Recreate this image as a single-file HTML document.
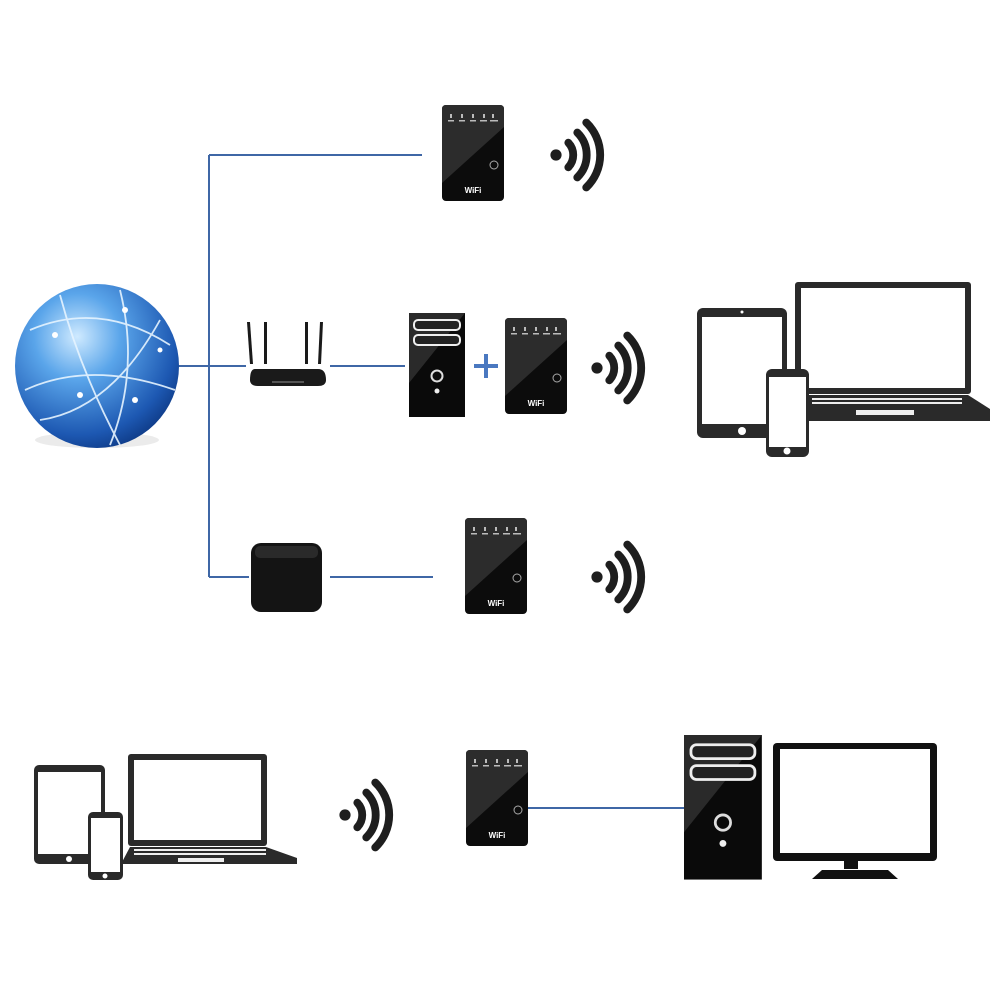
<!DOCTYPE html>
<html><head><meta charset="utf-8"><style>html,body{margin:0;padding:0;background:#fff}svg{display:block}</style></head>
<body>
<svg width="1000" height="1000" viewBox="0 0 1000 1000" xmlns="http://www.w3.org/2000/svg">
<defs>
<radialGradient id="gl" cx="0.38" cy="0.32" r="0.75">
<stop offset="0" stop-color="#cfeaff"/><stop offset="0.35" stop-color="#5aa5ea"/><stop offset="0.8" stop-color="#1d58b2"/><stop offset="1" stop-color="#0c3680"/></radialGradient>
<g id="rep">
<rect x="0" y="0" width="62" height="96" rx="4" fill="#0c0c0c"/>
<path d="M4 0 H58 Q62 0 62 4 V22 L0 78 V4 Q0 0 4 0Z" fill="#2c2c2c"/>
<g fill="#bbb"><rect x="8" y="9" width="2" height="4"/><rect x="19" y="9" width="2" height="4"/><rect x="30" y="9" width="2" height="4"/><rect x="41" y="9" width="2" height="4"/><rect x="50" y="9" width="2" height="4"/>
<rect x="6" y="15" width="6" height="1.5"/><rect x="17" y="15" width="6" height="1.5"/><rect x="28" y="15" width="6" height="1.5"/><rect x="38" y="15" width="7" height="1.5"/><rect x="48" y="15" width="8" height="1.5"/></g>
<circle cx="52" cy="60" r="4" fill="none" stroke="#aaa" stroke-width="1"/>
<text x="31" y="88" font-family="Liberation Sans, sans-serif" font-size="8" font-weight="bold" fill="#fff" text-anchor="middle">WiFi</text>
</g>
<g id="pc">
<rect x="0" y="0" width="56" height="104" fill="#0a0a0a"/>
<path d="M0 0 H56 L0 70Z" fill="#2a2a2a"/>
<rect x="5" y="7" width="46" height="10" rx="4" fill="#222" stroke="#eee" stroke-width="2"/>
<rect x="5" y="22" width="46" height="10" rx="4" fill="#222" stroke="#eee" stroke-width="2"/>
<circle cx="28" cy="63" r="5.5" fill="none" stroke="#ddd" stroke-width="2"/>
<circle cx="28" cy="78" r="2.5" fill="#eee"/>
</g>
<g id="sig" fill="none" stroke="#1e1e1e" stroke-width="7" stroke-linecap="round">
<circle cx="0" cy="0" r="5" fill="#1e1e1e" stroke="none"/>
<path d="M11 -11 A16 16 0 0 1 11 11"/>
<path d="M19 -20 A28 28 0 0 1 19 20"/>
<path d="M27 -29 A40 40 0 0 1 27 29"/>
</g>
</defs>

<g stroke="#3f67a6" stroke-width="2" fill="none">
<path d="M209 155 V577"/>
<path d="M209 155 H422"/>
<path d="M178 366 H246"/>
<path d="M330 366 H405"/>
<path d="M209 577 H249"/>
<path d="M330 577 H433"/>
<path d="M528 808 H684"/>
</g>
<g stroke="#4a78c0" stroke-width="4"><path d="M474 366 H498"/><path d="M486 354 V378"/></g>

<ellipse cx="97" cy="440" rx="62" ry="8" fill="#ddd" opacity="0.6"/>
<circle cx="97" cy="366" r="82" fill="url(#gl)"/>
<g stroke="#e6f4ff" stroke-width="1.8" fill="none" opacity="0.9">
<path d="M30 330 Q100 300 170 345"/><path d="M25 390 Q90 360 175 390"/><path d="M60 295 Q80 370 120 445"/><path d="M120 290 Q140 370 110 445"/><path d="M40 420 Q110 410 160 320"/>
</g>
<g fill="#fff"><circle cx="55" cy="335" r="3"/><circle cx="125" cy="310" r="3"/><circle cx="135" cy="400" r="3"/><circle cx="80" cy="395" r="3"/><circle cx="160" cy="350" r="2.5"/></g>

<g fill="#1a1a1a">
<path d="M247 322 L250 322 L253 364 L250 364Z"/><rect x="264" y="322" width="3" height="42"/><rect x="305" y="322" width="3" height="42"/><path d="M320 322 L323 322 L321 364 L318 364Z"/>
<path d="M255 369 H318 Q326 369 326 380 Q326 386 318 386 H258 Q250 386 250 380 Q250 369 255 369Z"/>
</g>
<rect x="272" y="381" width="32" height="2" fill="#555"/>

<rect x="251" y="543" width="71" height="69" rx="10" fill="#141414"/>
<rect x="255" y="546" width="63" height="12" rx="5" fill="#2a2a2a"/>

<use href="#rep" x="442" y="105"/>
<use href="#rep" x="505" y="318"/>
<use href="#rep" x="465" y="518"/>
<use href="#rep" x="466" y="750"/>

<use href="#pc" x="409" y="313"/>
<use href="#pc" transform="translate(684 735) scale(1.39 1.39)"/>

<use href="#sig" transform="translate(556 155) scale(1.12)"/>
<use href="#sig" transform="translate(597 368) scale(1.12)"/>
<use href="#sig" transform="translate(597 577) scale(1.12)"/>
<use href="#sig" transform="translate(345 815) scale(1.12)"/>

<rect x="795" y="282" width="176" height="112" rx="3" fill="#2a2a2a"/>
<rect x="801" y="288" width="164" height="100" fill="#fff"/>
<path d="M800 395 H968 L990 409 V421 H808 Z" fill="#2a2a2a"/>
<g fill="#eee"><rect x="812" y="398" width="150" height="2"/><rect x="812" y="402" width="150" height="2"/><rect x="856" y="410" width="58" height="5"/></g>
<rect x="697" y="308" width="90" height="130" rx="6" fill="#2a2a2a"/>
<rect x="702" y="317" width="80" height="107" fill="#fff"/>
<circle cx="742" cy="431" r="4" fill="#fff"/><circle cx="742" cy="312" r="1.5" fill="#fff"/>
<rect x="766" y="369" width="43" height="88" rx="6" fill="#2a2a2a"/>
<rect x="769" y="377" width="37" height="70" fill="#fff"/>
<circle cx="787" cy="451" r="3.5" fill="#fff"/>

<rect x="128" y="754" width="139" height="92" rx="3" fill="#2a2a2a"/>
<rect x="134" y="760" width="127" height="80" fill="#fff"/>
<path d="M130 847 H266 L297 858 V864 H121 Z" fill="#2a2a2a"/>
<g fill="#eee"><rect x="134" y="849" width="132" height="2"/><rect x="134" y="853" width="132" height="2"/><rect x="178" y="858" width="46" height="4"/></g>
<rect x="34" y="765" width="71" height="99" rx="5" fill="#2a2a2a"/>
<rect x="38" y="772" width="63" height="82" fill="#fff"/>
<circle cx="69" cy="859" r="3" fill="#fff"/>
<rect x="88" y="812" width="35" height="68" rx="5" fill="#2a2a2a"/>
<rect x="91" y="818" width="29" height="54" fill="#fff"/>
<circle cx="105" cy="876" r="2.5" fill="#fff"/>

<rect x="773" y="743" width="164" height="118" rx="4" fill="#111"/>
<rect x="780" y="749" width="150" height="104" fill="#fff"/>
<rect x="844" y="861" width="14" height="8" fill="#111"/>
<path d="M822 870 H888 L898 879 H812 Z" fill="#111"/>
</svg>
</body></html>
